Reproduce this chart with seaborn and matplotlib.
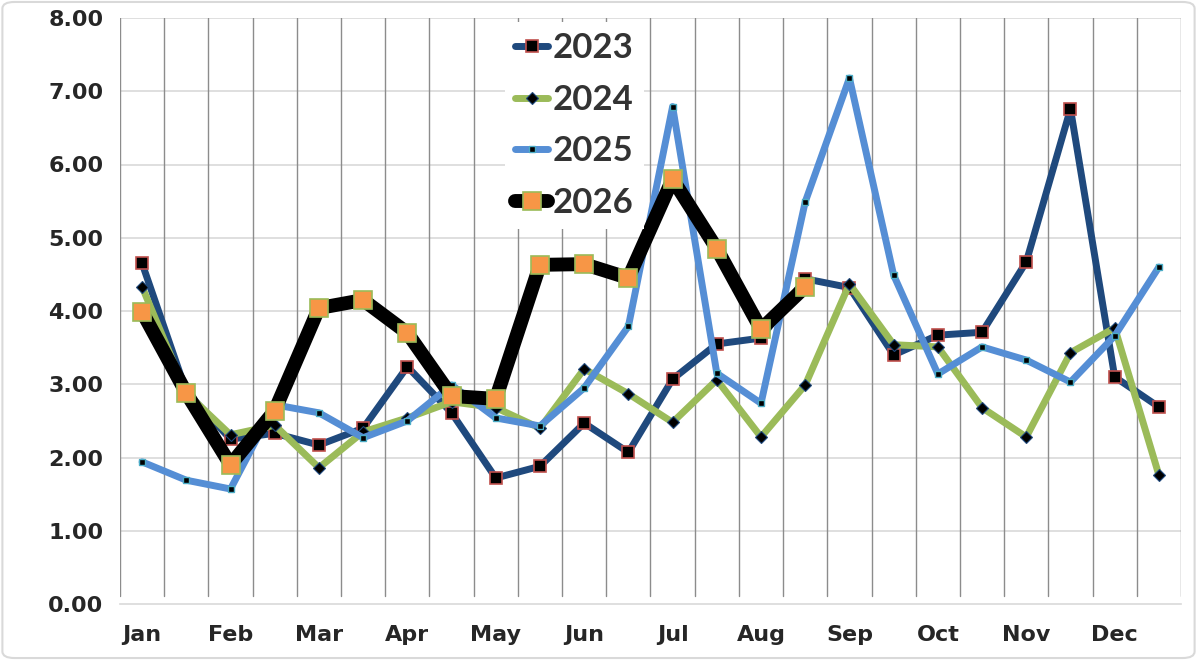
import matplotlib
matplotlib.use("Agg")
import matplotlib.pyplot as plt
import matplotlib.patches as mpatches
import numpy as np
import pandas as pd
import seaborn as sns

months = ["Jan", "Feb", "Mar", "Apr", "May", "Jun", "Jul", "Aug", "Sep", "Oct", "Nov", "Dec"]

y2023 = [4.65, 2.90, 2.25, 2.33, 2.17, 2.40, 3.24, 2.61, 1.72, 1.88, 2.47, 2.07,
         3.07, 3.55, 3.63, 4.44, 4.32, 3.40, 3.67, 3.71, 4.67, 6.76, 3.10, 2.69]
y2024 = [4.33, 2.88, 2.31, 2.44, 1.86, 2.35, 2.54, 2.76, 2.68, 2.40, 3.21, 2.87,
         2.48, 3.06, 2.28, 2.99, 4.37, 3.54, 3.51, 2.68, 2.28, 3.43, 3.77, 1.76]
y2025 = [1.94, 1.69, 1.57, 2.72, 2.61, 2.27, 2.50, 2.99, 2.54, 2.43, 2.95, 3.79,
         6.79, 3.15, 2.74, 5.49, 7.18, 4.49, 3.14, 3.51, 3.33, 3.03, 3.66, 4.60]
y2026 = [3.99, 2.88, 1.90, 2.64, 4.04, 4.15, 3.70, 2.84, 2.80, 4.63, 4.64, 4.45,
         5.80, 4.85, 3.75, 4.33]

series = {"2023": y2023, "2024": y2024, "2025": y2025, "2026": y2026}
rows = []
for name, vals in series.items():
    for i, v in enumerate(vals):
        rows.append({"pos": i, "value": v, "year": name})
df = pd.DataFrame(rows)

styles = {
    "2023": dict(color="#1f497d", linewidth=5, marker="s", markersize=8,
                 markerfacecolor="black", markeredgecolor="#c0504d", markeredgewidth=1.2),
    "2024": dict(color="#9bbb59", linewidth=5, marker="D", markersize=6.5,
                 markerfacecolor="black", markeredgecolor="#1f497d", markeredgewidth=0.8),
    "2025": dict(color="#558ed5", linewidth=5, marker="s", markersize=5,
                 markerfacecolor="black", markeredgecolor="#4bacc6", markeredgewidth=1.0),
    "2026": dict(color="black", linewidth=10, marker="s", markersize=12.5,
                 markerfacecolor="#f79646", markeredgecolor="#9bbb59", markeredgewidth=1.2),
}

sns.set_style("white")
plt.rcParams["font.family"] = ["DejaVu Sans"]

fig = plt.figure(figsize=(11.97, 6.60), dpi=100)
ax = fig.add_axes([120 / 1197, 56 / 660, 1061 / 1197, 586 / 660])

for z, (name, st) in enumerate(styles.items()):
    sub = df[df["year"] == name]
    sns.lineplot(data=sub, x="pos", y="value", ax=ax, label=name, zorder=3 + z,
                 solid_capstyle="round", solid_joinstyle="round", **st)

n = 24
ax.set_xlim(-0.5, n - 0.5)
ax.set_ylim(0, 8)

# horizontal gridlines
ax.set_yticks(np.arange(0, 9, 1))
ax.set_yticklabels([f"{v:.2f}" for v in np.arange(0, 9, 1)], fontsize=16, fontweight="bold")
for v in np.arange(1, 9, 1):
    ax.axhline(v, color="#d9d9d9", linewidth=1.2, zorder=1)

# vertical category boundaries
for b in np.arange(-0.5, n, 1):
    ax.axvline(b, ymin=0.014, ymax=1, color="#8c8c8c", linewidth=1.0, zorder=1)

ax.set_xticks(np.arange(0, n, 2))
ax.set_xticklabels(months, fontsize=16, fontweight="bold")
ax.set_xticks(np.arange(-0.5, n, 1), minor=True)
ax.tick_params(axis="x", which="major", length=0, pad=15)
ax.tick_params(axis="x", which="minor", length=7, width=1.2, color="#d9d9d9", direction="out")
ax.tick_params(axis="y", length=0, pad=12)

for s in ["top", "right", "left"]:
    ax.spines[s].set_visible(False)
ax.spines["bottom"].set_color("#d9d9d9")
ax.spines["bottom"].set_linewidth(1.2)
ax.set_xlabel("")
ax.set_ylabel("")

leg = ax.legend(loc="upper left", bbox_to_anchor=(505 / 1197, 1 - 22 / 660),
                bbox_transform=fig.transFigure, frameon=True, fancybox=False,
                borderaxespad=0, borderpad=0.3, handlelength=0.95, handletextpad=0.12,
                labelspacing=0.56,
                prop={"family": "Lato", "size": 25, "weight": "bold"})
leg.get_frame().set_facecolor("white")
leg.get_frame().set_edgecolor("none")
leg.get_frame().set_alpha(1)
leg.set_zorder(10)
for t in leg.get_texts():
    t.set_color("#333333")

fig.patches.append(mpatches.FancyBboxPatch((0.002, 0.003), 0.996, 0.994,
                                           boxstyle="round,pad=0,rounding_size=0.01",
                                           transform=fig.transFigure, fill=False,
                                           edgecolor="#d9d9d9", linewidth=1.5))

fig.savefig("out.png", dpi=100)
